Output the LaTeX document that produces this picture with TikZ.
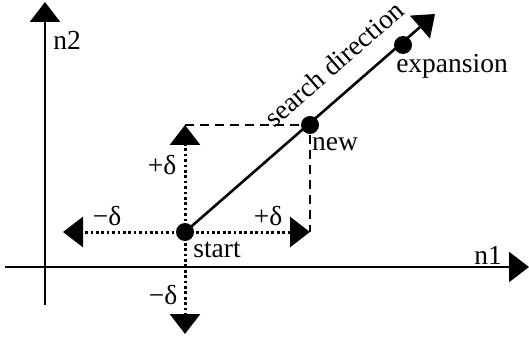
\documentclass[tikz,border=0pt]{standalone}
\usepackage{fontspec}
\setmainfont{Liberation Serif}
\usetikzlibrary{arrows.meta}
\begin{document}
\begin{tikzpicture}[x=1pt,y=-1pt,
  big/.style={-{Triangle[length=20pt,width=30pt]}},
  axis/.style={line width=2.6pt,big},
  dotline/.style={line width=3pt,dash pattern=on 2.7pt off 2.7pt,big},
  dashline/.style={line width=2.6pt,dash pattern=on 9pt off 6pt},
  dot/.style={circle,fill=black,inner sep=0pt,minimum size=18pt},
  lab/.style={inner sep=0pt,anchor=base,font=\fontsize{27.5}{31}\selectfont}]
\useasboundingbox (0,0) rectangle (529,339);
% axes
\coordinate (y0) at (45,305);
\coordinate (y1) at (45,2);
\coordinate (x0) at (5,267);
\coordinate (x1) at (529,267);
\draw[axis] (y0) -- (y1);
\draw[axis] (x0) -- (x1);
% points
\node[dot] (s) at (185,232) {};
\node[dot] (n) at (310,125) {};
\node[dot] (e) at (403,45) {};
\coordinate (tip) at (435,14);
\coordinate (l) at (63,232);
\coordinate (r) at (310,232);
\coordinate (u) at (185,125);
\coordinate (d) at (185,334);
% dashed
\draw[dashline] (u) -- (n.center) -- (r);
% dotted
\draw[dotline] (s.center) -- (l);
\draw[dotline] (s.center) -- (r);
\draw[dotline] (s.center) -- (u);
\draw[dotline] (s.center) -- (d);
% search direction
\draw[line width=2.6pt,big] (s.center) -- (tip);
% labels
\node[lab] (ln2) at (67,50) {n2};
\node[lab] (ln1) at (488,264) {n1};
\node[lab] (lpu) at (162,174) {+δ};
\node[lab] (lml) at (107,225) {−δ};
\node[lab] (lpr) at (268,225) {+δ};
\node[lab] (lmd) at (163,304) {−δ};
\node[lab] (lst) at (217,257) {start};
\node[lab] (lnew) at (335,150) {new};
\node[lab] (lexp) at (452,73) {expansion};
\node[lab,rotate=41] (lsd) at (340,71) {search direction};
\end{tikzpicture}
\end{document}
